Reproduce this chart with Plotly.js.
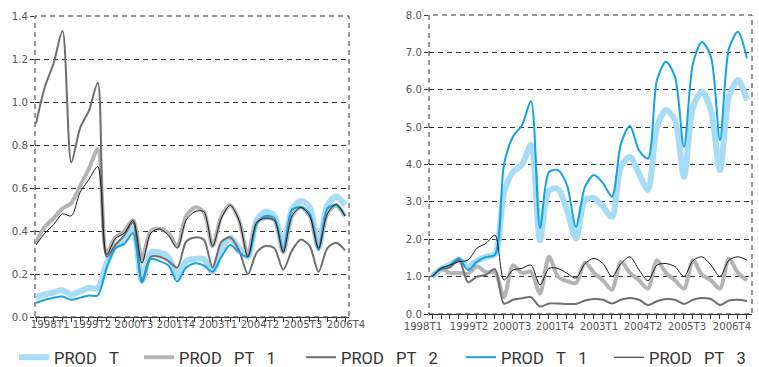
<!DOCTYPE html>
<html><head><meta charset="utf-8">
<script src="https://cdn.plot.ly/plotly-3.0.1.min.js"></script>
<style>html,body{margin:0;padding:0;background:#fff}#chart{width:759px;height:367px}</style>
</head><body><div id="chart"></div>
<script>
// ---- DATA ----
const quarters = ['1998T1','1998T2','1998T3','1998T4','1999T1','1999T2','1999T3','1999T4',
  '2000T1','2000T2','2000T3','2000T4','2001T1','2001T2','2001T3','2001T4',
  '2002T1','2002T2','2002T3','2002T4','2003T1','2003T2','2003T3','2003T4',
  '2004T1','2004T2','2004T3','2004T4','2005T1','2005T2','2005T3','2005T4',
  '2006T1','2006T2','2006T3','2006T4'];
const tickLabels = ['1998T1','1999T2','2000T3','2001T4','2003T1','2004T2','2005T3','2006T4'];
const seriesNames = ['PROD T','PROD PT 1','PROD PT 2','PROD T 1','PROD PT 3'];

// left panel
const leftProdT   = [0.09,0.105,0.115,0.125,0.105,0.12,0.135,0.135, 0.25,0.33,0.355,0.41, 0.17,0.30,0.30,0.28, 0.19,0.26,0.27,0.27, 0.21,0.31,0.37,0.32, 0.28,0.45,0.49,0.47, 0.33,0.50,0.54,0.51, 0.33,0.52,0.56,0.52];
const leftProdPT1 = [0.35,0.42,0.46,0.505,0.53,0.61,0.69,0.78, 0.30,0.37,0.40,0.45, 0.27,0.40,0.41,0.39, 0.33,0.47,0.51,0.49, 0.33,0.47,0.52,0.45, 0.29,0.44,0.46,0.45, 0.30,0.47,0.51,0.47, 0.32,0.48,0.52,0.47];
const leftProdPT2 = [0.90,1.07,1.18,1.33,0.72,0.88,0.96,1.09, 0.28,0.335,0.38,0.44, 0.17,0.28,0.28,0.26, 0.23,0.35,0.37,0.36, 0.23,0.35,0.37,0.31, 0.20,0.30,0.33,0.32, 0.22,0.31,0.36,0.33, 0.21,0.32,0.345,0.31];
const leftProdT1  = [0.065,0.08,0.09,0.095,0.08,0.09,0.10,0.10, 0.23,0.32,0.34,0.39, 0.16,0.27,0.26,0.24, 0.165,0.23,0.25,0.24, 0.21,0.28,0.335,0.30, 0.28,0.435,0.47,0.46, 0.31,0.50,0.51,0.48, 0.31,0.505,0.52,0.47];
const leftProdPT3 = [0.335,0.39,0.43,0.48,0.47,0.58,0.64,0.70, 0.29,0.366,0.39,0.45, 0.25,0.39,0.41,0.38, 0.32,0.45,0.49,0.49, 0.33,0.46,0.52,0.45, 0.28,0.44,0.46,0.45, 0.30,0.47,0.51,0.47, 0.32,0.48,0.525,0.47];

// right panel
const rightProdT   = [1.0,1.2,1.32,1.45,1.28,1.42,1.53,1.6, 3.25,3.8,4.0,4.52, 1.98,3.3,3.35,2.78, 2.02,3.05,3.1,2.87, 2.6,3.94,4.2,3.76, 3.32,5.0,5.45,5.19, 3.67,5.54,5.95,5.45, 3.85,5.81,6.26,5.72];
const rightProdPT1 = [1.0,1.22,1.1,1.1,1.08,1.27,1.12,1.12, 0.45,1.3,1.1,1.13, 0.55,1.53,1.0,0.88, 0.83,1.38,1.1,0.9, 0.65,1.4,1.1,0.9, 0.68,1.44,1.1,0.9, 0.68,1.44,1.05,0.9, 0.68,1.48,1.1,0.9];
const rightProdPT2 = [1.0,1.2,1.25,1.45,0.85,1.0,1.05,1.2, 0.28,0.38,0.42,0.45, 0.2,0.28,0.28,0.27, 0.27,0.36,0.40,0.38, 0.28,0.38,0.43,0.38, 0.24,0.34,0.40,0.38, 0.27,0.38,0.43,0.40, 0.24,0.36,0.38,0.35];
const rightProdT1  = [1.0,1.22,1.31,1.49,1.18,1.40,1.53,1.58, 4.0,4.75,5.05,5.7, 2.3,3.8,3.85,3.45, 2.33,3.4,3.72,3.5, 3.14,4.56,5.03,4.38, 4.16,6.26,6.75,6.35, 4.47,6.7,7.28,6.88, 4.65,7.1,7.55,6.84];
const rightProdPT3 = [1.0,1.22,1.31,1.40,1.44,1.76,1.89,2.11, 0.91,1.18,1.22,1.31, 0.78,1.22,1.22,1.09, 0.96,1.35,1.49,1.35, 1.0,1.35,1.53,1.18, 0.89,1.31,1.35,1.27, 1.0,1.43,1.53,1.31, 1.0,1.44,1.53,1.44];

// ---- STYLE ----
const xIdx = quarters.map((q, i) => i);
const styles = [
  {color:'#a6dcf5', width:6},
  {color:'#b4b4b4', width:4},
  {color:'#6e6e6e', width:2},
  {color:'#14a3e0', width:2},
  {color:'#1a1a1a', width:1}
];
const leftSeries = [leftProdT, leftProdPT1, leftProdPT2, leftProdT1, leftProdPT3];
const rightSeries = [rightProdT, rightProdPT1, rightProdPT2, rightProdT1, rightProdPT3];
const legendIds = ['legend','legend2','legend3','legend4','legend5'];

const traces = [];
leftSeries.forEach((ys, k) => {
  traces.push({
    type:'scatter', mode:'lines', name: seriesNames[k].replace(/ /g, '\u00A0\u00A0\u00A0'),
    x:xIdx, y:ys, text:quarters, xaxis:'x', yaxis:'y',
    line:{color:styles[k].color, width:styles[k].width, shape:'spline', smoothing:0.8},
    legend: legendIds[k], showlegend:true
  });
});
rightSeries.forEach((ys, k) => {
  traces.push({
    type:'scatter', mode:'lines', name: seriesNames[k],
    x:xIdx, y:ys, text:quarters, xaxis:'x2', yaxis:'y2',
    line:{color:styles[k].color, width:styles[k].width, shape:'spline', smoothing:0.8},
    showlegend:false
  });
});

const W = 759, H = 367;
const tickFont = {family:'DejaVu Sans, sans-serif', size:10.2, color:'#555'};
const gridDash = '5px,4px';
const legendFont = {family:'Roboto, Liberation Sans, sans-serif', size:16.5, color:'#333'};
const legendX = [14, 139, 301, 461, 609];
const legendBase = {orientation:'h', yanchor:'top', y:(H-340)/H, xanchor:'left', bgcolor:'rgba(0,0,0,0)', borderwidth:0, font:legendFont};

const xCommon = {
  tickmode:'array', ticktext:tickLabels, ticks:'', showgrid:false, zeroline:false, tickangle:0,
  showline:true, linecolor:'#333', linewidth:1, tickfont:tickFont,
  minor:{tickmode:'linear', tick0:0, dtick:1, ticks:'outside', ticklen:4, tickcolor:'#333', tickwidth:1, showgrid:false}
};
const yCommon = {
  ticks:'outside', ticklen:4, tickcolor:'#333', tickwidth:1, showgrid:true, gridcolor:'#333',
  gridwidth:1, griddash:gridDash, zeroline:false, showline:false, tickfont:tickFont, tickformat:'.1f'
};

const layout = Object.assign({
  width:W, height:H, margin:{l:0,r:0,t:0,b:0, autoexpand:false}, paper_bgcolor:'#fff', plot_bgcolor:'#fff',
  showlegend:true, hovermode:false,
  xaxis: Object.assign({}, xCommon, {domain:[35/W, 349/W], range:[-0.113, 35.45], anchor:'y',
    tickvals:[1.59, 6.34, 11.10, 15.86, 20.61, 25.37, 30.24, 35.11], ticklabelstandoff:-2}),
  yaxis: Object.assign({}, yCommon, {domain:[50/H, 351/H], range:[0, 1.4], dtick:0.2, anchor:'x'}),
  xaxis2: Object.assign({}, xCommon, {domain:[429/W, 752/W], range:[-0.333, 35.56], anchor:'y2',
    tickvals:[0.44, 5.56, 10.33, 15.11, 20.0, 24.89, 29.78, 34.78], ticklabelshift:-13, ticklabelstandoff:3}),
  yaxis2: Object.assign({}, yCommon, {domain:[53/H, 352/H], range:[0, 8], dtick:1, anchor:'x2'}),
  shapes:[
    {type:'rect', xref:'x domain', yref:'y domain', x0:0, x1:1, y0:0, y1:1, layer:'below',
     line:{color:'#333', width:1, dash:gridDash}},
    {type:'rect', xref:'x2 domain', yref:'y2 domain', x0:0, x1:1, y0:0, y1:1, layer:'below',
     line:{color:'#333', width:1, dash:gridDash}}
  ]
}, Object.fromEntries(legendIds.map((id, k) => [id, Object.assign({}, legendBase, {x: legendX[k]/W})])));

Plotly.newPlot('chart', traces, layout, {staticPlot:true, displayModeBar:false});
</script>
</body></html>
